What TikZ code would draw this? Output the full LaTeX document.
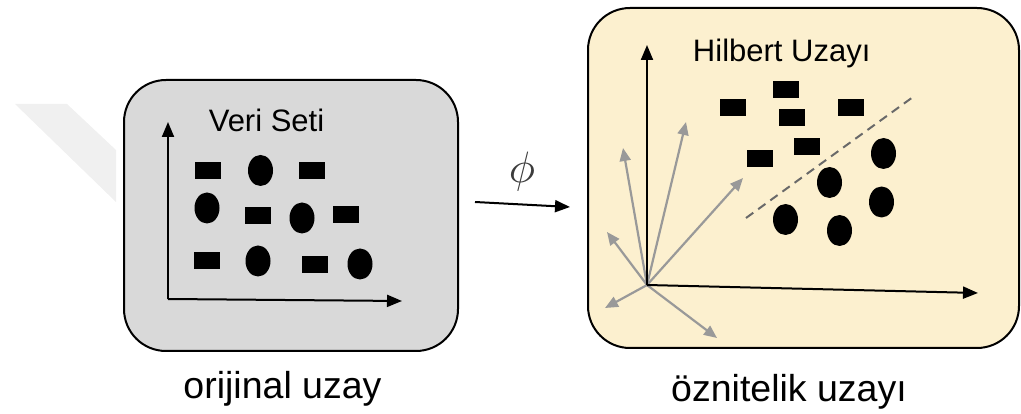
\documentclass[tikz,border=0pt]{standalone}
\usepackage{fontspec}
\setmainfont{Liberation Sans}
\usetikzlibrary{arrows.meta,shapes.geometric}
\definecolor{boxgray}{RGB}{217,217,217}
\definecolor{boxcream}{RGB}{252,240,207}
\definecolor{wmark}{RGB}{240,240,240}
\definecolor{vecgray}{RGB}{153,153,153}
\definecolor{sepgray}{RGB}{105,105,105}
\definecolor{phigray}{RGB}{60,60,60}
\begin{document}
\begin{tikzpicture}[x=1pt,y=-1pt,
  panel/.style={draw=black,line width=2pt,rounded corners=42pt,inner sep=0pt},
  rectpt/.style={fill=black,rectangle,minimum width=26pt,minimum height=17pt,inner sep=0pt},
  ellpt/.style={fill=black,ellipse,minimum width=25pt,minimum height=31pt,inner sep=0pt},
  axis/.style={line width=2pt,-{Triangle[length=15pt,width=12pt]}},
  vec/.style={draw=vecgray,line width=2.2pt,-{Triangle[length=13pt,width=11pt]}},
  sep/.style={draw=sepgray,line width=2pt,dash pattern=on 9pt off 6pt},
  title/.style={font=\fontsize{31}{31}\selectfont,inner sep=0pt,anchor=base},
  caption/.style={font=\fontsize{37.5}{37.5}\selectfont,inner sep=0pt,anchor=base},
]
\useasboundingbox (0,0) rectangle (1021,414);
% faint watermark
\fill[wmark] (15,104) -- (67,104) -- (116,150) -- (116,202) -- cycle;

% panels
\node[panel,fill=boxgray,minimum width=334pt,minimum height=271pt] (left) at (291,215.5) {};
\node[panel,fill=boxcream,minimum width=431pt,minimum height=340pt] (right) at (803.5,178) {};

% titles
\node[title] (veri) at (266.5,131.7) {Veri Seti};
\node[title] (hilb) at (781.7,61.7) {Hilbert Uzayı};

% captions
\node[caption] (cap1) at (282.5,398) {orijinal uzay};
\node[caption] (cap2) at (789,401.7) {öznitelik uzayı};

% left axes
\coordinate (lo) at (168,299);
\coordinate (ly) at (168,122);
\coordinate (lx) at (402,301);
\draw[axis] (lo) -- (ly);
\draw[axis] (lo) -- (lx);

% left data
\node[rectpt] (l1) at (208,171) {};
\node[ellpt]  (l2) at (260.5,170.5) {};
\node[rectpt] (l3) at (312,171) {};
\node[ellpt]  (l4) at (207,208) {};
\node[rectpt] (l5) at (258,215.5) {};
\node[ellpt]  (l6) at (302,218) {};
\node[rectpt] (l7) at (346,215) {};
\node[rectpt] (l8) at (207,260.5) {};
\node[ellpt]  (l9) at (258,261) {};
\node[rectpt] (l10) at (314.5,265) {};
\node[ellpt]  (l11) at (360,264) {};

% mapping arrow
\coordinate (ma) at (475,202);
\coordinate (mb) at (570,207);
\draw[axis] (ma) -- (mb);
\node[text=phigray,inner sep=0pt,scale=4.4] (phi) at (522,172) {$\phi$};

% right axes
\coordinate (ro) at (647,285);
\coordinate (ry) at (647,45);
\coordinate (rx) at (978,293);
\coordinate (v1) at (623,148);
\coordinate (v2) at (686,122);
\coordinate (v3) at (743,178);
\coordinate (v4) at (607,232);
\coordinate (v5) at (605,308);
\coordinate (v6) at (717,338);
\foreach \v in {v1,v2,v3,v4,v5,v6} \draw[vec] (ro) -- (\v);
\draw[axis] (ro) -- (ry);
\draw[axis] (ro) -- (rx);

% separating line
\coordinate (sa) at (746,218);
\coordinate (sb) at (913,97);
\draw[sep] (sa) -- (sb);

% right data
\node[rectpt] (r1) at (733,107.5) {};
\node[rectpt] (r2) at (785.5,89.5) {};
\node[rectpt] (r3) at (850.5,107.5) {};
\node[rectpt] (r4) at (791.5,118) {};
\node[rectpt] (r5) at (759.5,158.5) {};
\node[rectpt] (r6) at (806.5,146.5) {};
\node[ellpt]  (r7) at (883.5,153.5) {};
\node[ellpt]  (r8) at (829.5,182.5) {};
\node[ellpt]  (r9) at (881.5,202) {};
\node[ellpt]  (r10) at (785.5,219.5) {};
\node[ellpt]  (r11) at (839.5,230.5) {};
\end{tikzpicture}
\end{document}
